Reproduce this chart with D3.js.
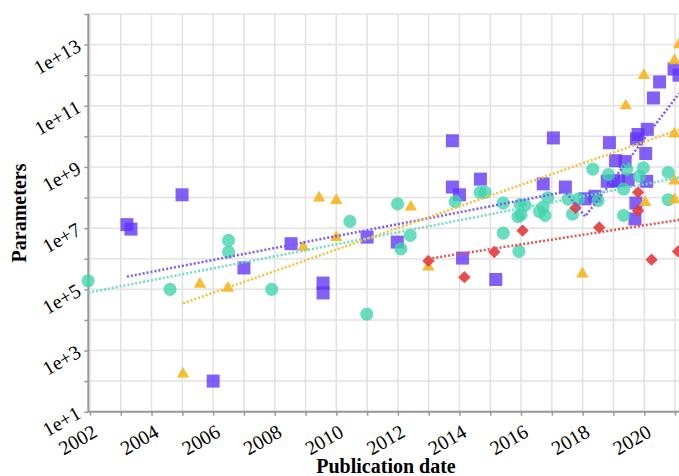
<!DOCTYPE html>
<html>
<head>
<meta charset="utf-8">
<script src="https://cdn.jsdelivr.net/npm/d3@7"></script>
<style>
  html, body { margin: 0; padding: 0; background: #fff; overflow: hidden; }
  svg { display: block; }
</style>
</head>
<body>
<svg id="chart" width="679" height="476"></svg>
<script>
// ---------- data (decimal year, parameter count) ----------
const purpleYears = [2003.2, 2003.33, 2004.99, 2006.0, 2007.0, 2008.53, 2009.57, 2009.57, 2011.0, 2011.98,
  2014.1, 2015.18, 2013.77, 2013.77, 2014.0, 2014.68, 2017.05, 2016.72, 2017.44, 2018.08,
  2018.4, 2018.87, 2019.07, 2019.38, 2019.0, 2019.48, 2019.75, 2019.8, 2020.1, 2020.05,
  2020.08, 2019.73, 2019.7, 2020.3, 2020.5, 2020.97, 2021.13, 2018.8, 2019.17];
const purpleValues = [1.3e7, 9.3e6, 1.23e8, 100, 5.0e5, 3.1e6, 1.6e5, 7.6e4, 5.1e6, 3.5e6,
  1.05e6, 2.1e5, 7.2e9, 2.2e8, 1.23e8, 4.0e8, 8.9e9, 2.8e8, 2.2e8, 9.1e7,
  1.1e8, 6.2e9, 1.6e9, 1.5e9, 3.5e8, 3.8e8, 8.3e9, 1.15e10, 1.7e10, 2.75e9,
  3.4e8, 6.6e7, 2.0e7, 1.8e11, 6.0e11, 1.6e12, 1.0e12, 3.4e8, 3.5e8];

const tealYears = [2001.94, 2004.6, 2006.5, 2006.5, 2007.9, 2010.99, 2012.1, 2012.4, 2010.44, 2011.99,
  2013.86, 2014.67, 2014.83, 2015.42, 2015.97, 2016.13, 2016.87, 2016.72, 2015.9, 2016.6,
  2016.78, 2017.53, 2017.67, 2017.86, 2018.33, 2018.84, 2019.33, 2019.43, 2019.84, 2019.97,
  2019.33, 2020.78, 2020.78, 2015.42, 2015.93, 2018.5, 2016.0];
const tealValues = [1.9e5, 1.0e5, 4.0e6, 1.66e6, 1.0e5, 1.55e4, 2.1e6, 5.8e6, 1.66e7, 6.2e7,
  7.4e7, 1.48e8, 1.48e8, 6.6e7, 5.9e7, 5.6e7, 9.8e7, 4.9e7, 2.4e7, 3.5e7,
  2.6e7, 8.9e7, 2.9e7, 8.9e7, 8.5e8, 5.6e8, 1.9e8, 8.5e8, 4.9e8, 9.3e8,
  2.6e7, 6.6e8, 8.5e7, 6.9e6, 1.74e6, 8.0e7, 2.75e7];

const yellowYears = [2005.02, 2005.57, 2006.48, 2009.44, 2010.0, 2012.42, 2008.93, 2010.0, 2012.99, 2019.4,
  2019.99, 2020.98, 2021.13, 2020.98, 2020.98, 2020.98, 2020.03, 2017.99];
const yellowValues = [170, 1.48e5, 1.1e5, 9.8e7, 8.1e7, 4.9e7, 2.4e6, 5.0e6, 5.4e5, 1.0e11,
  9.8e11, 3.0e12, 1.0e13, 1.2e10, 3.5e8, 8.5e7, 6.9e7, 3.2e5];

const redYears = [2012.99, 2014.16, 2015.13, 2016.05, 2018.54, 2020.24, 2021.1, 2019.8, 2019.8, 2017.77];
const redValues = [8.5e5, 2.5e5, 1.66e6, 8.3e6, 1.05e7, 9.3e5, 1.74e6, 3.7e7, 1.48e8, 4.6e7];

// trend lines (year, value)
const purpleTrendYears = [2003.2, 2017.44, 2018.08, 2021.13];
const purpleTrendValues = [2.6e5, 1.55e8, 2.4e7, 2.5e11];
const tealTrendYears = [2001.94, 2021.13];
const tealTrendValues = [7.8e4, 4.5e8];
const yellowTrendYears = [2005.02, 2021.13];
const yellowTrendValues = [3.5e4, 1.66e10];
const redTrendYears = [2012.99, 2021.13];
const redTrendValues = [1.0e6, 1.86e7];

const yearTicks = d3.range(2002, 2022);
const yearLabels = ["2002", "2004", "2006", "2008", "2010", "2012", "2014", "2016", "2018", "2020"];
const decadeTicks = d3.range(1, 15).map(e => Math.pow(10, e));
const decadeLabels = ["1e+1", "1e+3", "1e+5", "1e+7", "1e+9", "1e+11", "1e+13"];

// ---------- layout ----------
const svg = d3.select("#chart");
const mLeft = 88.3, mRight = 679, mTop = 14, mBottom = 411.7;
const x = d3.scaleLinear().domain([2001.945, 2021.13]).range([mLeft, mRight]);
const y = d3.scaleLog().domain([1e1, 1e14]).range([mBottom, mTop]);

const serif = "'Liberation Serif', 'Times New Roman', serif";

// grid
const grid = svg.append("g");
grid.selectAll("line.v").data(yearTicks).join("line")
  .attr("x1", d => x(d)).attr("x2", d => x(d))
  .attr("y1", mTop).attr("y2", mBottom)
  .attr("stroke", "#e2e2e2").attr("stroke-width", 1.5);
grid.selectAll("line.h").data(decadeTicks).join("line")
  .attr("x1", mLeft).attr("x2", mRight + 10)
  .attr("y1", d => y(d)).attr("y2", d => y(d))
  .attr("stroke", "#e2e2e2").attr("stroke-width", 1.5);

// axes
const xAxis = d3.axisBottom(x).tickValues(yearTicks).tickSize(4)
  .tickFormat(d => yearLabels.includes(String(d)) ? String(d) : "");
const gx = svg.append("g").attr("transform", `translate(0,${mBottom})`).call(xAxis);
gx.select(".domain").attr("stroke", "#999").attr("stroke-width", 2).attr("d", `M${mLeft},0H${mRight + 10}`);
gx.selectAll(".tick line").attr("stroke", "#999").attr("stroke-width", 1.5);
gx.selectAll(".tick text")
  .attr("x", 0).attr("y", 0).attr("dy", 0)
  .attr("transform", "translate(8,24) rotate(-30)")
  .attr("text-anchor", "end")
  .style("font-family", serif).style("font-size", "20px").attr("fill", "#000");

const yAxis = d3.axisLeft(y).tickValues(decadeTicks).tickSize(4)
  .tickFormat(d => {
    const s = "1e+" + Math.round(Math.log10(d));
    return decadeLabels.includes(s) ? s : "";
  });
const gy = svg.append("g").attr("transform", `translate(${mLeft},0)`).call(yAxis);
gy.select(".domain").attr("stroke", "#999").attr("stroke-width", 2).attr("d", `M0,${mTop}V${mBottom}`);
gy.selectAll(".tick line").attr("stroke", "#999").attr("stroke-width", 1.5);
gy.selectAll(".tick text")
  .attr("x", 0).attr("y", 0).attr("dy", 0)
  .attr("transform", "translate(-6,5) rotate(-30)")
  .attr("text-anchor", "end")
  .style("font-family", serif).style("font-size", "20px").attr("fill", "#000");

// axis titles
svg.append("text").attr("x", 386).attr("y", 473).attr("text-anchor", "middle")
  .style("font-family", serif).style("font-size", "20px").style("font-weight", "bold")
  .text("Publication date");
svg.append("text").attr("transform", "translate(26,213) rotate(-90)").attr("text-anchor", "middle")
  .style("font-family", serif).style("font-size", "20px").style("font-weight", "bold")
  .text("Parameters");

// points
const plot = svg.append("g");
function pts(years, values) { return years.map((yr, i) => ({ yr, v: values[i] })); }

plot.selectAll("path.sq").data(pts(purpleYears, purpleValues)).join("path")
  .attr("d", d3.symbol().type(d3.symbolSquare).size(169))
  .attr("transform", d => `translate(${x(d.yr)},${y(d.v)})`)
  .attr("fill", "#5f33f7").attr("fill-opacity", 0.78);

plot.selectAll("path.ci").data(pts(tealYears, tealValues)).join("path")
  .attr("d", d3.symbol().type(d3.symbolCircle).size(135))
  .attr("transform", d => `translate(${x(d.yr)},${y(d.v)})`)
  .attr("fill", "#3fd3ad").attr("fill-opacity", 0.78);

plot.selectAll("path.tr").data(pts(yellowYears, yellowValues)).join("path")
  .attr("d", d3.symbol().type(d3.symbolTriangle).size(66))
  .attr("transform", d => `translate(${x(d.yr)},${y(d.v)})`)
  .attr("fill", "#f6b51c").attr("fill-opacity", 0.9);

plot.selectAll("path.di").data(pts(redYears, redValues)).join("path")
  .attr("d", d3.symbol().type(d3.symbolSquare).size(76))
  .attr("transform", d => `translate(${x(d.yr)},${y(d.v)}) rotate(45)`)
  .attr("fill", "#e53a3a").attr("fill-opacity", 0.9);

// trend lines
const line = d3.line().x(d => x(d.yr)).y(d => y(d.v));
const trends = [
  [purpleTrendYears, purpleTrendValues, "#7e5af6"],
  [tealTrendYears, tealTrendValues, "#6cdcc2"],
  [yellowTrendYears, yellowTrendValues, "#f8c033"],
  [redTrendYears, redTrendValues, "#e85050"]
];
trends.forEach(([ys, vs, c]) => {
  plot.append("path").datum(pts(ys, vs)).attr("d", line)
    .attr("fill", "none").attr("stroke", c).attr("stroke-width", 2.5)
    .attr("stroke-dasharray", "2,2");
});
</script>
</body>
</html>
